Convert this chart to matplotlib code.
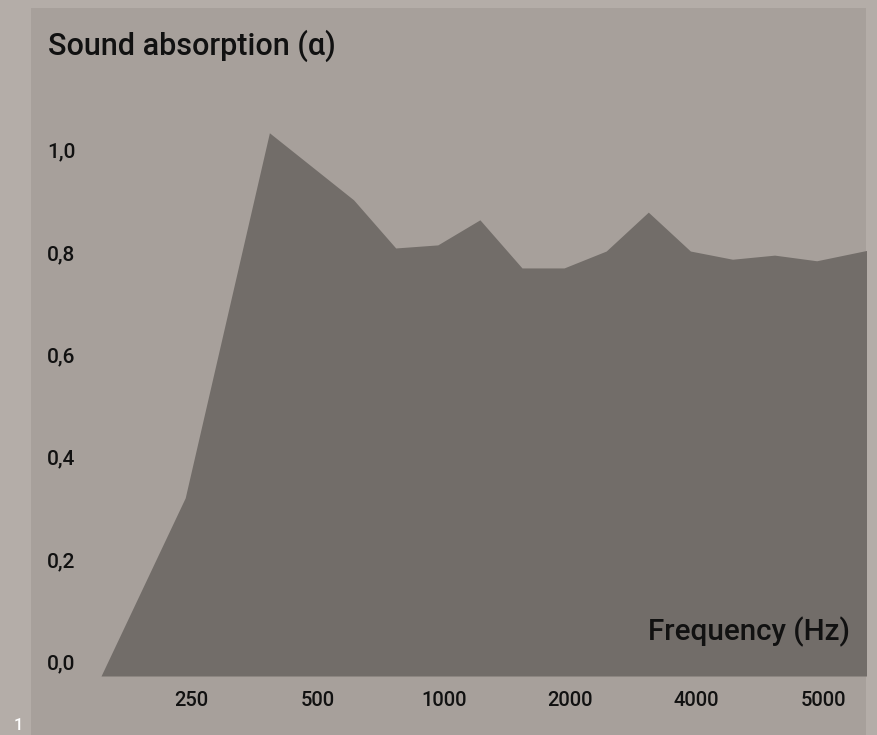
import matplotlib.pyplot as plt
import matplotlib.transforms as mtransforms

# band index (third-octave steps) and absorption coefficient
band_index = [0, 2, 4, 6, 7, 8, 9, 10, 11, 12, 13, 14, 15, 16, 17, 18, 19]
alpha = [0.0, 0.348, 1.061, 0.93, 0.836, 0.842, 0.891, 0.797, 0.797,
         0.83, 0.906, 0.83, 0.814, 0.822, 0.811, 0.828, 0.845]

x_tick_pos = [2, 5, 8, 11, 14, 17]
x_tick_labels = ["250", "500", "1000", "2000", "4000", "5000"]
y_ticks = [0.0, 0.2, 0.4, 0.6, 0.8, 1.0]

outer_bg = "#b4ada8"
panel_bg = "#a7a09b"
fill_col = "#726d69"
txt = "#111111"

plt.rcParams['font.family'] = ['Roboto', 'DejaVu Sans']
plt.rcParams['font.weight'] = 'medium'

W, H = 877, 735
fig = plt.figure(figsize=(W / 100, H / 100), dpi=100, facecolor=outer_bg)

# panel goes from x=31..866, y=8..735 (pixels)
ax = fig.add_axes([31 / W, 0, (866 - 31) / W, (735 - 8) / H], facecolor=panel_bg)

px = 42.1  # pixels per band step
x0 = 101   # pixel x of first point
ax.set_xlim(-(x0 - 31) / px, (866 - x0) / px)
scale = 512  # pixels per unit alpha
y0 = 676
ax.set_ylim(-(735 - y0) / scale, (y0 - 8) / scale)

ax.fill_between(band_index, 0, alpha, color=fill_col, linewidth=0)

for s in ax.spines.values():
    s.set_visible(False)
ax.set_xticks([])
ax.set_yticks([])

# y labels sit a little above their value
up = mtransforms.ScaledTranslation(0, 12 / 100, fig.dpi_scale_trans)
trans_y = mtransforms.blended_transform_factory(fig.transFigure, ax.transData) + up
for v in y_ticks:
    ax.text(47 / W, v, f"{v:.1f}".replace(".", ","), transform=trans_y,
            ha='left', va='center', fontsize=15, color=txt)

trans_x = mtransforms.blended_transform_factory(ax.transData, fig.transFigure)
for p, lab in zip(x_tick_pos, x_tick_labels):
    ax.text(p + 0.15, 1 - 700 / H, lab, transform=trans_x,
            ha='center', va='center', fontsize=14.5, color=txt)

fig.text(48 / W, 1 - 46 / H, "Sound absorption (α)", ha='left', va='center',
         fontsize=22, color=txt)
fig.text(850 / W, 1 - 632 / H, "Frequency (Hz)", ha='right', va='center',
         fontsize=21.3, color=txt)
fig.text(14 / W, 1 - 718 / H, "1", ha='left', va='top', fontsize=12, color='white')

fig.savefig("out.png", dpi=100, facecolor=outer_bg)
